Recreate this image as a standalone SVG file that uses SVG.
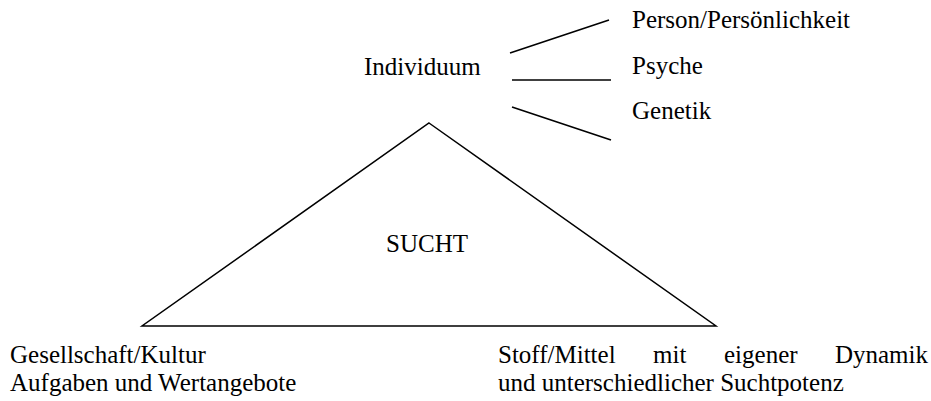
<svg xmlns="http://www.w3.org/2000/svg" width="931" height="401" viewBox="0 0 931 401">
  <style>
    .t { font-family: 'Liberation Serif', 'Times New Roman', 'DejaVu Serif', serif; font-size: 25px; fill: #000; }
    .ln { stroke: #000; stroke-width: 1.5; fill: none; }
  </style>
  <rect width="931" height="401" fill="#fff"/>
  <g id="sucht">
    <polygon class="ln" points="429,123 716,326 142,326"/>
    <text class="t" x="427" y="252" text-anchor="middle">SUCHT</text>
  </g>
  <g id="individuum">
    <text class="t" x="364" y="75">Individuum</text>
  </g>
  <g id="person">
    <text class="t" x="632" y="28">Person/Persönlichkeit</text>
  </g>
  <g id="psyche">
    <text class="t" x="632" y="74">Psyche</text>
  </g>
  <g id="genetik">
    <text class="t" x="632" y="119">Genetik</text>
  </g>
  <g id="gesellschaft">
    <text class="t" x="10" y="363">Gesellschaft/Kultur</text>
    <text class="t" x="10" y="391">Aufgaben und Wertangebote</text>
  </g>
  <g id="stoff">
    <text class="t" y="363"><tspan x="498">Stoff/Mittel</tspan><tspan x="653">mit</tspan><tspan x="724">eigener</tspan></text>
    <text class="t" x="928" y="363" text-anchor="end">Dynamik</text>
    <text class="t" x="498" y="391">und unterschiedlicher Suchtpotenz</text>
  </g>
  <g id="connectors">
    <line class="ln" x1="510" y1="53" x2="609" y2="20"/>
    <line class="ln" x1="512" y1="80" x2="611" y2="80"/>
    <line class="ln" x1="512" y1="107" x2="611" y2="140"/>
  </g>
</svg>
